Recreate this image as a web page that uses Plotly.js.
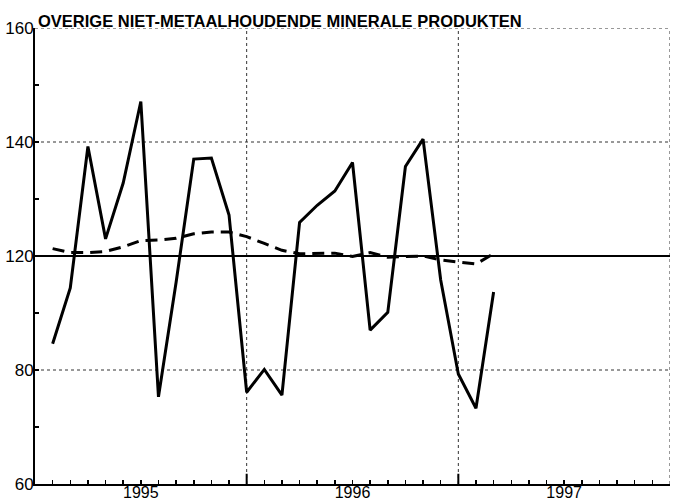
<!DOCTYPE html>
<html>
<head>
<meta charset="utf-8">
<script src="https://cdn.plot.ly/plotly-3.0.1.min.js"></script>
<style>html,body{margin:0;padding:0;background:#fff;}#chart{width:673px;height:503px;}</style>
</head>
<body>
<div id="chart"></div>
<script>
// Month index: 1 = January 1995 (plotted at end of month)
const monthIndex = [1,2,3,4,5,6,7,8,9,10,11,12,13,14,15,16,17,18,19,20,21,22,23,24,25,26];
// Monthly index (solid line)
const production = [104.6,114.4,139.2,123.0,132.8,147.1,95.3,115.4,137.0,137.2,127.2,96.1,
                    100.1,95.6,125.9,128.9,131.4,136.4,107.0,110.1,135.7,140.5,115.8,99.3,93.3,113.7];
// Trend (dashed line)
const trend = [121.3,120.6,120.6,120.8,121.6,122.7,122.8,123.1,123.9,124.2,124.2,123.4,
               122.2,121.0,120.4,120.4,120.5,119.9,120.6,119.8,119.9,120.0,119.3,119.0,118.6,120.4];
const yearLabels = ["1995","1996","1997"];
const yearCenters = [6,18,30];
const yTickVals = [80,100,120,140,160];
const yTickText = ["60","80","120","140","160"];
const yearBounds = [12,24,36];
const dottedGridY = [100,140,160];

const font = "Liberation Sans, Arial, Helvetica, sans-serif";

// month ticks (every month boundary), labels only at year centres
const xTickVals = [], xTickText = [];
for (let m = 1; m < 36; m++) {
  xTickVals.push(m);
  const i = yearCenters.indexOf(m);
  xTickText.push(i >= 0 ? yearLabels[i] : '');
}
// y ticks every half interval, labels only at main values
const yAllVals = [], yAllText = [];
for (let v = 80; v <= 160; v += 10) {
  yAllVals.push(v);
  const i = yTickVals.indexOf(v);
  yAllText.push(i >= 0 ? yTickText[i] : '');
}

const traces = [
  {x: monthIndex, y: trend, type:'scatter', mode:'lines',
   line:{color:'#000', width:3, dash:'12px,7px'}, hoverinfo:'skip'},
  {x: monthIndex, y: production, type:'scatter', mode:'lines',
   line:{color:'#000', width:3}, hoverinfo:'skip'}
];

const shapes = [];
yearBounds.forEach(v => shapes.push({type:'line', xref:'x', yref:'y', x0:v, x1:v, y0:80, y1:160,
  line:{color:'#333', width:1, dash:'dot'}, layer:'below'}));
dottedGridY.forEach(v => shapes.push({type:'line', xref:'x', yref:'y', x0:0, x1:36, y0:v, y1:v,
  line:{color:'#333', width:1, dash:'dot'}, layer:'below'}));
shapes.push({type:'line', xref:'x', yref:'y', x0:0, x1:36, y0:120, y1:120,
  line:{color:'#000', width:2}, layer:'below'});
// longer ticks at year boundaries
yearBounds.slice(0,2).forEach(v => shapes.push({type:'line', xref:'x', yref:'y', x0:v, x1:v, y0:80, y1:81.8,
  line:{color:'#000', width:2}}));

const layout = {
  width:673, height:503,
  margin:{l:35, r:3, t:28, b:19},
  paper_bgcolor:'#fff', plot_bgcolor:'#fff',
  showlegend:false,
  font:{family:font, color:'#000', size:16},
  title:{text:'OVERIGE NIET-METAALHOUDENDE MINERALE PRODUKTEN',
         font:{family:font, size:16.5, color:'#000', weight:'bold'},
         xref:'paper', x:0, xanchor:'left', yref:'container', y:1-27/503, yanchor:'bottom',
         pad:{l:3, t:0, b:0, r:0}},
  xaxis:{range:[0,36], tickmode:'array', tickvals:xTickVals, ticktext:xTickText,
         ticks:'inside', ticklen:4, tickwidth:1.5, tickcolor:'#000',
         showgrid:false, zeroline:false, showline:true, linecolor:'#000', linewidth:2,
         tickfont:{family:font, size:16, color:'#000'}, ticklabelstandoff:-7,
         fixedrange:true},
  yaxis:{range:[80,160], tickmode:'array', tickvals:yAllVals, ticktext:yAllText,
         ticks:'inside', ticklen:4, tickwidth:1.5, tickcolor:'#000',
         showgrid:false, zeroline:false, showline:true, linecolor:'#000', linewidth:2,
         tickfont:{family:font, size:17, color:'#000'}, ticklabelstandoff:-4,
         fixedrange:true},
  shapes: shapes
};

Plotly.newPlot('chart', traces, layout, {displayModeBar:false, staticPlot:true});
</script>
</body>
</html>
